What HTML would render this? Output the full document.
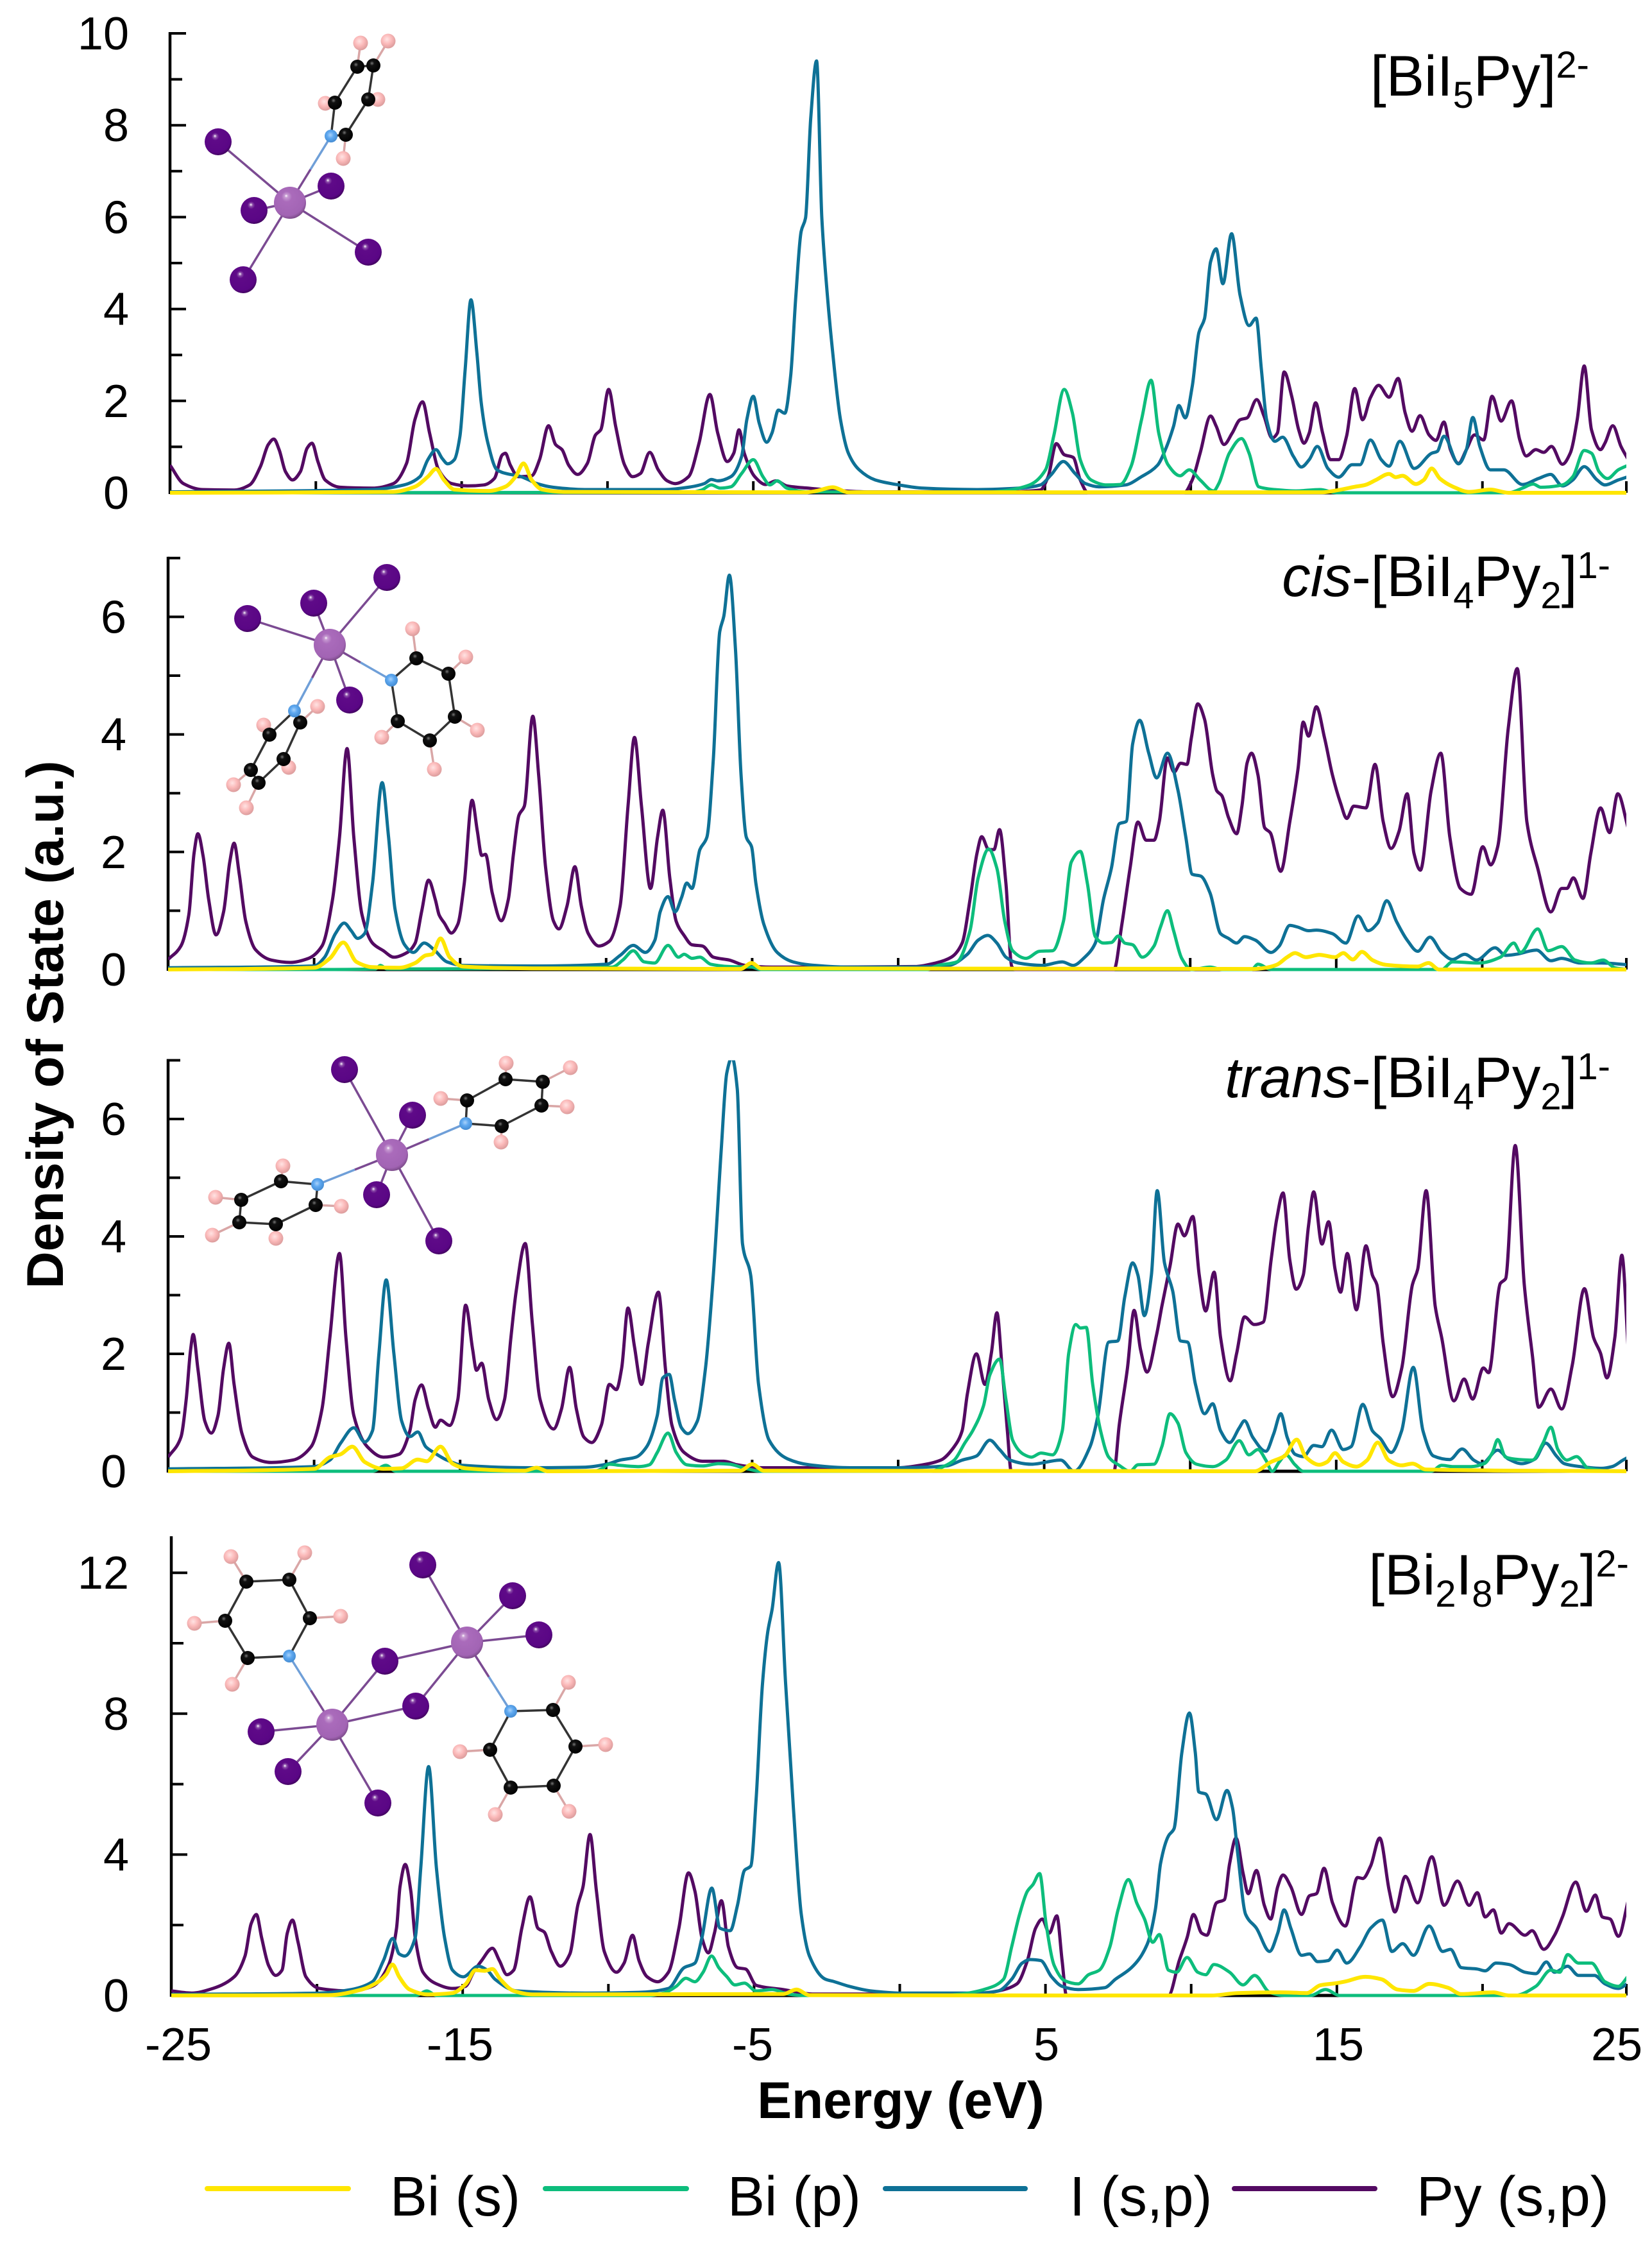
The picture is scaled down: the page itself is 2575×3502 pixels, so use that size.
<!DOCTYPE html>
<html lang="en">
<head>
<meta charset="utf-8">
<title>Density of State by molecular fragment</title>
<style>
html,body{margin:0;padding:0;background:#fff;}
svg{display:block;}
text{font-family:"Liberation Sans",Arial,sans-serif;fill:#000;}
.tick{font-size:72px;}
.tag{font-size:89px;}
.legend{font-size:87px;}
.axis-title{font-size:80.5px;font-weight:bold;}
.s{font-size:58px;}
</style>
</head>
<body>
<svg id="chart" xmlns="http://www.w3.org/2000/svg" width="2575" height="3502" viewBox="0 0 2575 3502">
<defs>
<radialGradient id="iodine" cx="0.45" cy="0.4" r="0.65" fx="0.38" fy="0.28"><stop offset="0" stop-color="#fff"/><stop offset="0.1" stop-color="#8a4ca8"/><stop offset="0.22" stop-color="#5f0a88"/><stop offset="0.8" stop-color="#5a0685"/><stop offset="1" stop-color="#37034f"/></radialGradient>
<radialGradient id="bismuth" cx="0.45" cy="0.4" r="0.65" fx="0.38" fy="0.28"><stop offset="0" stop-color="#fff"/><stop offset="0.08" stop-color="#c79bd2"/><stop offset="0.25" stop-color="#aa6bbb"/><stop offset="0.8" stop-color="#a264b4"/><stop offset="1" stop-color="#6d4279"/></radialGradient>
<radialGradient id="nitrogen" cx="0.45" cy="0.42" r="0.65"><stop offset="0" stop-color="#a9d2fa"/><stop offset="0.4" stop-color="#5ea8f0"/><stop offset="1" stop-color="#3f86cc"/></radialGradient>
<radialGradient id="carbon" cx="0.4" cy="0.35" r="0.65"><stop offset="0" stop-color="#777"/><stop offset="0.25" stop-color="#111"/><stop offset="1" stop-color="#000"/></radialGradient>
<radialGradient id="hydrogen" cx="0.42" cy="0.38" r="0.65"><stop offset="0" stop-color="#ffe3e3"/><stop offset="0.5" stop-color="#fbb9b9"/><stop offset="1" stop-color="#d99a9a"/></radialGradient>
</defs>
<rect width="2575" height="3502" fill="#fff"/>
<g id="molecules"></g>
<g id="panels"></g>

<text class="tag" x="2477" y="149" text-anchor="end">[BiI<tspan class="s" dy="19">5</tspan><tspan dy="-19">Py]</tspan><tspan class="s" dy="-28">2-</tspan></text>
<text class="tag" x="2510" y="929" text-anchor="end"><tspan font-style="italic">cis</tspan>-[BiI<tspan class="s" dy="19">4</tspan><tspan dy="-19">Py</tspan><tspan class="s" dy="19">2</tspan><tspan dy="-19">]</tspan><tspan class="s" dy="-28">1-</tspan></text>
<text class="tag" x="2510" y="1710" text-anchor="end"><tspan font-style="italic">trans</tspan>-[BiI<tspan class="s" dy="19">4</tspan><tspan dy="-19">Py</tspan><tspan class="s" dy="19">2</tspan><tspan dy="-19">]</tspan><tspan class="s" dy="-28">1-</tspan></text>
<text class="tag" x="2539" y="2485" text-anchor="end">[Bi<tspan class="s" dy="19">2</tspan><tspan dy="-19">I</tspan><tspan class="s" dy="19">8</tspan><tspan dy="-19">Py</tspan><tspan class="s" dy="19">2</tspan><tspan dy="-19">]</tspan><tspan class="s" dy="-28">2-</tspan></text>

<text class="axis-title" x="1404" y="3301" text-anchor="middle">Energy (eV)</text>
<text class="axis-title" x="98" y="1597" text-anchor="middle" transform="rotate(-90 98 1597)">Density of State (a.u.)</text>

<g>
<line x1="323" x2="543" y1="3411" y2="3411" stroke="#ffe600" stroke-width="8" stroke-linecap="round"/>
<text class="legend" x="608" y="3453">Bi (s)</text>
<line x1="850" x2="1070" y1="3411" y2="3411" stroke="#0dbd7c" stroke-width="8" stroke-linecap="round"/>
<text class="legend" x="1134" y="3453">Bi (p)</text>
<line x1="1380" x2="1598" y1="3411" y2="3411" stroke="#0e7196" stroke-width="8" stroke-linecap="round"/>
<text class="legend" x="1667" y="3453">I (s,p)</text>
<line x1="1924" x2="2143" y1="3411" y2="3411" stroke="#530a62" stroke-width="8" stroke-linecap="round"/>
<text class="legend" x="2208" y="3453">Py (s,p)</text>
</g>
</svg>

<script>
// Shared axis values
const energyTicks = [-25,-20,-15,-10,-5,0,5,10,15,20,25];
const energyTickLabels = [-25,-15,-5,5,15,25];
const dosTicksA = [0,1,2,3,4,5,6,7,8,9,10];
const dosLabelsA = [0,2,4,6,8,10];
const dosTicksB = [0,1,2,3,4,5,6,7];
const dosLabelsB = [0,2,4,6];
const dosTicksC = [0,2,4,6,8,10,12];
const dosLabelsC = [0,4,8,12];

// [BiI5Py]2- : [energy eV, DOS]
const p1Py = [[-25,.6],[-24.54,.2],[-23.9,.07],[-22.8,.06],[-22.27,.17],[-21.9,.57],[-21.63,1.05],[-21.44,1.17],[-21.26,.94],[-21.04,.46],[-20.8,.28],[-20.53,.46],[-20.3,.97],[-20.13,1.08],[-19.93,.68],[-19.68,.28],[-19.17,.12],[-18.07,.1],[-17.34,.2],[-16.89,.64],[-16.6,1.6],[-16.34,1.98],[-16.1,1.3],[-15.79,.5],[-15.34,.2],[-14.8,.15],[-14.24,.17],[-13.88,.31],[-13.6,.83],[-13.5,.86],[-13.33,.6],[-13.06,.35],[-12.6,.37],[-12.33,.72],[-12.02,1.46],[-11.78,1.05],[-11.56,.94],[-11.33,.6],[-11.02,.4],[-10.69,.64],[-10.41,1.26],[-10.23,1.37],[-9.96,2.25],[-9.72,1.45],[-9.41,.6],[-9.14,.35],[-8.87,.42],[-8.55,.88],[-8.26,.5],[-7.95,.26],[-7.68,.2],[-7.22,.35],[-6.86,1.08],[-6.49,2.14],[-6.22,1.3],[-5.89,.68],[-5.67,.86],[-5.49,1.37],[-5.31,.86],[-4.95,.35],[-4.58,.18],[-4.22,.26],[-3.85,.15],[-3.12,.1],[-2.4,.06],[-1,.02],[3.5,.02],[4.84,.06],[5.11,.35],[5.39,1.07],[5.66,.83],[5.97,.77],[6.21,.28],[6.48,0],[9.77,0],[10.05,.28],[10.32,.86],[10.68,1.67],[10.87,1.45],[11.14,1.05],[11.42,1.3],[11.69,1.59],[11.93,1.63],[12.26,2.03],[12.51,1.67],[12.79,1.19],[12.97,1.3],[13.2,2.63],[13.46,2.1],[13.7,1.37],[13.88,1.08],[14.06,1.3],[14.28,1.96],[14.52,1.3],[14.79,.72],[15.07,.72],[15.34,1.23],[15.62,2.27],[15.89,1.59],[16.16,2.07],[16.44,2.34],[16.8,2.08],[17.11,2.49],[17.35,1.74],[17.59,1.34],[17.86,1.68],[18.17,1.26],[18.41,1.14],[18.68,1.54],[18.9,.94],[19.18,.64],[19.45,.94],[19.73,1.26],[20.04,1.15],[20.33,2.1],[20.64,1.56],[21,2],[21.28,1.15],[21.5,.8],[21.83,.94],[22.1,.88],[22.37,1.01],[22.74,.62],[23.01,.86],[23.25,1.59],[23.49,2.76],[23.74,1.37],[24.05,.94],[24.2,1.08],[24.47,1.46],[24.75,1.01],[25,.72]];
const p1I = [[-25,.02],[-18.07,.07],[-16.98,.17],[-16.43,.35],[-16.16,.72],[-15.88,.94],[-15.67,.75],[-15.48,.63],[-15.25,.72],[-15.06,1.23],[-14.88,2.69],[-14.68,4.2],[-14.48,3.06],[-14.33,1.96],[-14.1,1.08],[-13.79,.5],[-13.42,.41],[-13.06,.37],[-12.8,.31],[-12.42,.2],[-11.87,.12],[-10.78,.07],[-8.04,.07],[-7.13,.13],[-6.68,.2],[-6.44,.29],[-6.22,.26],[-5.77,.35],[-5.4,.79],[-5.22,1.6],[-5,2.1],[-4.8,1.52],[-4.54,1.1],[-4.36,1.3],[-4.14,1.8],[-3.92,1.73],[-3.72,2.54],[-3.54,4.3],[-3.36,5.69],[-3.21,5.98],[-3.03,8.17],[-2.83,9.4],[-2.65,5.98],[-2.47,4.37],[-2.28,3.06],[-2.01,1.59],[-1.74,.86],[-1.37,.5],[-.82,.28],[0,.17],[.82,.1],[2.65,.07],[4.11,.1],[4.84,.17],[5.21,.39],[5.63,.68],[6.03,.42],[6.39,.2],[6.85,.13],[7.76,.17],[8.31,.35],[8.86,.6],[9.13,.94],[9.41,1.45],[9.59,1.9],[9.81,1.63],[10.05,2.32],[10.28,3.49],[10.47,3.79],[10.68,5.03],[10.87,5.31],[11.1,4.55],[11.4,5.64],[11.69,4.3],[12,3.64],[12.24,3.8],[12.42,2.69],[12.6,1.59],[12.88,1.12],[13.15,1.21],[13.52,.79],[13.79,.56],[14.06,.72],[14.34,1.01],[14.7,.53],[15.07,.34],[15.53,.61],[15.8,.61],[16.16,1.15],[16.53,.72],[16.8,.58],[17.17,1.12],[17.66,.53],[18.26,.86],[18.45,.9],[18.68,1.23],[19.18,.63],[19.45,.94],[19.67,1.64],[19.91,1.01],[20.27,.5],[20.73,.5],[21.37,.18],[21.92,.31],[22.34,.4],[22.74,.15],[23.1,.28],[23.49,.57],[23.93,.28],[24.2,.17],[24.66,.28],[25,.35]];
const p1BiP = [[-25,0],[-7.13,.01],[-6.77,.06],[-6.44,.17],[-6.13,.1],[-5.77,.13],[-5.4,.42],[-5,.72],[-4.67,.35],[-4.43,.17],[-4.18,.26],[-3.85,.1],[-3.1,.02],[3,.01],[3.56,.04],[4.47,.17],[5.02,.5],[5.3,1.23],[5.66,2.25],[5.94,1.74],[6.21,.72],[6.58,.28],[7.12,.17],[7.58,.18],[7.95,.57],[8.31,1.59],[8.64,2.45],[8.9,1.3],[9.22,.61],[9.63,.37],[9.95,.5],[10.32,.28],[10.78,.04],[10.96,.2],[11.32,.86],[11.74,1.18],[12,.86],[12.33,.13],[12.88,.07],[13.6,.04],[14.43,.07],[15,0],[20.9,0],[21.37,.1],[21.74,.19],[22,.12],[22.74,.17],[23.1,.35],[23.49,.92],[23.74,.86],[24,.46],[24.29,.31],[24.66,.5],[25,.6]];
const p1BiS = [[-25,0],[-17.34,.02],[-16.61,.13],[-16.16,.35],[-15.88,.52],[-15.61,.28],[-15.25,.07],[-14.06,.04],[-13.51,.13],[-13.15,.35],[-12.88,.64],[-12.6,.28],[-12.24,.07],[-11.5,.02],[-3.2,.01],[-2.83,.04],[-2.28,.12],[-1.74,.01],[14.5,.01],[15.07,.06],[15.62,.13],[15.98,.17],[16.35,.28],[16.8,.41],[17.02,.34],[17.26,.37],[17.72,.19],[17.99,.28],[18.26,.53],[18.54,.31],[19,.13],[19.54,.02],[20.27,.07],[20.9,0],[25,0]];

// cis-[BiI4Py2]1-
const p2Py = [[-25,.17],[-24.56,.4],[-24.29,.93],[-24.11,1.98],[-23.98,2.31],[-23.8,1.93],[-23.61,1.19],[-23.36,.59],[-23.1,.98],[-22.89,1.82],[-22.74,2.15],[-22.56,1.61],[-22.34,.82],[-22.01,.34],[-21.46,.16],[-20.82,.12],[-20.19,.19],[-19.73,.4],[-19.37,1.19],[-19.13,2.25],[-18.87,3.76],[-18.64,2.25],[-18.36,.93],[-18,.45],[-17.63,.32],[-17.27,.21],[-16.81,.29],[-16.54,.45],[-16.32,.98],[-16.08,1.52],[-15.85,1.19],[-15.72,.93],[-15.54,.79],[-15.3,.62],[-15.08,.77],[-14.86,1.46],[-14.59,2.88],[-14.41,2.35],[-14.26,1.94],[-14.13,1.96],[-13.9,1.3],[-13.59,.83],[-13.35,1.19],[-13.17,1.98],[-12.99,2.62],[-12.8,2.78],[-12.51,4.31],[-12.31,3.31],[-12.07,1.72],[-11.8,.82],[-11.62,.69],[-11.34,1.08],[-11.07,1.75],[-10.85,1.08],[-10.61,.61],[-10.25,.4],[-9.89,.48],[-9.52,1.08],[-9.25,2.78],[-9.03,3.95],[-8.79,2.78],[-8.48,1.38],[-8.24,2.25],[-8.06,2.71],[-7.82,1.56],[-7.6,.82],[-7.33,.58],[-7.06,.42],[-6.7,.4],[-6.33,.21],[-5.78,.16],[-5.24,.07],[-4.33,.04],[.55,.05],[1.28,.11],[1.82,.21],[2.19,.45],[2.46,1.19],[2.7,1.98],[2.86,2.26],[3.1,2.04],[3.28,2.04],[3.47,2.38],[3.69,1.46],[3.89,.05],[4,0],[7.39,0],[7.66,.77],[7.94,1.72],[8.21,2.51],[8.49,2.2],[8.76,2.2],[8.94,2.51],[9.22,3.6],[9.45,3.36],[9.67,3.51],[9.89,3.49],[10.04,3.94],[10.26,4.52],[10.49,4.26],[10.77,3.31],[10.91,3.04],[11.08,2.96],[11.31,2.59],[11.59,2.31],[11.77,2.78],[11.95,3.52],[12.1,3.68],[12.32,3.31],[12.55,2.41],[12.74,2.33],[13.1,1.67],[13.41,2.51],[13.69,3.41],[13.87,4.21],[14.05,3.97],[14.32,4.47],[14.6,3.94],[14.87,3.31],[15.15,2.83],[15.36,2.57],[15.6,2.78],[16.02,2.75],[16.33,3.49],[16.61,2.51],[16.88,2.06],[17.15,2.35],[17.43,2.99],[17.66,1.98],[17.88,1.69],[18.25,3.04],[18.58,3.68],[18.89,2.25],[19.25,1.38],[19.62,1.28],[20.02,2.09],[20.29,1.78],[20.53,2.09],[20.89,4.1],[21.2,5.12],[21.53,2.51],[21.9,1.72],[22.35,.98],[22.72,1.38],[22.9,1.38],[23.12,1.56],[23.45,1.21],[23.72,1.98],[24.05,2.75],[24.36,2.33],[24.64,2.99],[25,2.4]];
const p2I = [[-25,.03],[-20,.06],[-19.64,.21],[-19.27,.61],[-18.97,.79],[-18.73,.66],[-18.51,.53],[-18.27,.61],[-18,1.46],[-17.67,3.18],[-17.45,2.25],[-17.23,1.03],[-16.9,.42],[-16.6,.29],[-16.23,.45],[-15.9,.34],[-15.45,.13],[-14.9,.07],[-12.53,.06],[-9.98,.09],[-9.52,.24],[-9.07,.41],[-8.66,.29],[-8.33,.5],[-8.15,.98],[-7.88,1.24],[-7.64,.98],[-7.42,1.22],[-7.24,1.47],[-7.06,1.38],[-6.79,2.04],[-6.55,2.25],[-6.33,3.58],[-6.11,5.75],[-5.97,6.01],[-5.78,6.71],[-5.57,5.43],[-5.38,3.31],[-5.2,2.25],[-5.02,2.09],[-4.87,1.46],[-4.6,.77],[-4.14,.29],[-3.6,.13],[-3.05,.08],[-1.64,.04],[0,.04],[1.73,.07],[2.37,.26],[2.74,.5],[3.07,.58],[3.38,.45],[3.69,.21],[4.11,.11],[4.93,.07],[5.62,.13],[5.99,.07],[6.39,.21],[6.75,.45],[7.03,1.19],[7.3,1.72],[7.57,2.48],[7.81,2.52],[8.03,3.84],[8.27,4.24],[8.58,3.68],[8.85,3.26],[9.22,3.68],[9.58,3.05],[9.85,2.25],[10.07,1.62],[10.36,1.59],[10.68,1.3],[11.04,.61],[11.31,.53],[11.59,.45],[11.86,.56],[12.23,.5],[12.77,.29],[13.05,.4],[13.41,.75],[13.69,.72],[14.05,.66],[14.32,.67],[14.87,.61],[15.33,.45],[15.75,.91],[16.09,.66],[16.42,.79],[16.73,1.17],[17.06,.82],[17.43,.5],[17.79,.31],[18.21,.55],[18.61,.29],[18.98,.17],[19.4,.26],[19.8,.16],[20.44,.37],[20.8,.24],[21.17,.26],[21.86,.33],[22.35,.15],[22.72,.19],[23.36,.11],[24.09,.11],[25,.08]];
const p2BiP = [[-25,0],[-20,0],[-17.9,.01],[-17.73,.07],[-17.5,.01],[-9.8,.04],[-9.43,.16],[-9.07,.32],[-8.7,.13],[-8.34,.11],[-7.88,.41],[-7.52,.21],[-7.33,.26],[-7.06,.19],[-6.79,.21],[-6.42,.09],[-5.78,.05],[-5.02,.04],[-4.7,0],[1,0],[1.37,.07],[2.01,.13],[2.46,.66],[2.74,1.56],[3.1,2.05],[3.38,1.72],[3.65,.82],[3.92,.32],[4.38,.19],[4.84,.31],[5.29,.32],[5.66,.82],[5.93,1.83],[6.24,2.01],[6.48,1.46],[6.75,.56],[7.03,.45],[7.3,.46],[7.54,.57],[7.76,.45],[8.03,.42],[8.36,.21],[8.76,.4],[8.98,.72],[9.22,1],[9.43,.66],[9.71,.19],[10.04,0],[10.68,.04],[11.1,0],[12.1,0],[12.32,.09],[12.77,0],[18.61,0],[18.98,.13],[19.89,.11],[20.62,.21],[21.08,.45],[21.31,.29],[21.9,.69],[22.26,.32],[22.72,.39],[23.18,.16],[23.72,.11],[24.14,.16],[24.54,.03],[25,0]];
const p2BiS = [[-25,0],[-20,.03],[-19.46,.19],[-19,.46],[-18.55,.13],[-18,.04],[-17.09,.03],[-16.54,.11],[-16.18,.24],[-15.96,.26],[-15.67,.53],[-15.36,.21],[-14.9,.05],[-12.53,.02],[-5.4,.01],[-5.02,.11],[-4.69,.02],[12.2,.01],[12.59,.03],[12.96,.08],[13.32,.21],[13.59,.28],[13.96,.21],[14.42,.25],[14.96,.21],[15.24,.28],[15.57,.17],[15.88,.3],[16.24,.16],[16.7,.08],[17.79,.05],[18.16,.11],[18.52,0],[25,0]];

// trans-[BiI4Py2]1-
const p3Py = [[-25,.24],[-24.56,.58],[-24.38,1.22],[-24.23,2.07],[-24.14,2.33],[-23.98,1.75],[-23.74,.85],[-23.52,.65],[-23.29,.95],[-23.1,1.75],[-22.92,2.18],[-22.74,1.48],[-22.47,.64],[-22.1,.24],[-21.46,.15],[-20.73,.19],[-20.1,.42],[-19.73,1.06],[-19.46,2.28],[-19.13,3.71],[-18.91,2.28],[-18.64,.95],[-18.18,.42],[-17.63,.24],[-17.09,.29],[-16.72,.69],[-16.54,1.22],[-16.32,1.47],[-16.08,1.06],[-15.85,.75],[-15.67,.87],[-15.36,.78],[-15.08,1.22],[-14.81,2.83],[-14.57,2.07],[-14.44,1.72],[-14.26,1.84],[-14.02,1.22],[-13.75,.88],[-13.48,1.22],[-13.26,2.28],[-13.08,3.07],[-12.77,3.88],[-12.53,2.54],[-12.26,1.22],[-11.8,.72],[-11.53,1.06],[-11.25,1.77],[-11.02,1.06],[-10.76,.58],[-10.49,.49],[-10.16,.79],[-9.89,1.48],[-9.65,1.39],[-9.47,1.75],[-9.25,2.78],[-9.03,2.12],[-8.79,1.48],[-8.56,2.17],[-8.21,3.05],[-7.97,1.75],[-7.75,.79],[-7.33,.32],[-6.7,.17],[-5.97,.17],[-5.51,.11],[-4.69,.06],[-.91,.06],[0,.06],[.73,.1],[1.46,.19],[1.92,.42],[2.19,.69],[2.37,1.32],[2.68,2],[2.97,1.48],[3.19,2.01],[3.38,2.7],[3.56,1.75],[3.74,.69],[3.87,0],[7.39,0],[7.57,.79],[7.85,1.75],[8.08,2.74],[8.3,2.07],[8.52,1.69],[8.85,2.33],[9.03,2.81],[9.31,3.5],[9.58,4.21],[9.8,4.01],[10.09,4.34],[10.31,3.34],[10.53,2.73],[10.82,3.39],[11.04,2.28],[11.37,1.54],[11.59,2.01],[11.86,2.63],[12.19,2.5],[12.5,2.54],[12.77,3.6],[12.96,4.29],[13.18,4.74],[13.41,3.6],[13.63,3.1],[13.87,3.34],[14.05,4.18],[14.23,4.76],[14.51,3.87],[14.74,4.25],[14.96,3.44],[15.15,3.05],[15.38,3.71],[15.69,2.75],[16.02,3.84],[16.24,3.34],[16.39,3.18],[16.61,2.17],[16.93,1.27],[17.24,1.75],[17.61,3.18],[17.79,3.44],[18.08,4.78],[18.39,2.81],[18.61,2.28],[19.03,1.2],[19.38,1.57],[19.67,1.23],[20.04,1.76],[20.22,1.68],[20.62,3.2],[20.8,3.28],[21.13,5.55],[21.44,3.18],[21.72,1.96],[21.93,1.09],[22.35,1.4],[22.72,1.06],[23.08,1.8],[23.5,3.11],[23.81,2.28],[24.05,2.01],[24.27,1.59],[24.54,2.28],[24.78,3.68],[25,2.07]];
const p3I = [[-25,.04],[-20,.08],[-19.46,.19],[-19.09,.48],[-18.64,.74],[-18.27,.5],[-18,.69],[-17.78,2.01],[-17.53,3.26],[-17.27,2.01],[-17,.85],[-16.72,.59],[-16.45,.67],[-16.18,.42],[-15.9,.32],[-15.45,.19],[-14.9,.1],[-12.53,.06],[-10.7,.07],[-9.98,.12],[-9.52,.19],[-8.98,.24],[-8.61,.42],[-8.25,.95],[-8.06,1.59],[-7.84,1.65],[-7.66,1.22],[-7.42,.74],[-7.2,.64],[-6.88,.85],[-6.6,1.75],[-6.33,3.34],[-6.06,5.46],[-5.87,6.78],[-5.69,7.05],[-5.51,6.51],[-5.33,3.87],[-5.05,3.34],[-4.78,1.48],[-4.42,.53],[-3.78,.21],[-3.05,.11],[-1.64,.06],[0,.06],[1.64,.09],[2.19,.19],[2.68,.26],[3.14,.53],[3.47,.37],[3.83,.19],[4.56,.12],[5.57,.19],[6.02,0],[6.57,.42],[6.84,.95],[7.21,2.2],[7.52,2.22],[7.76,2.97],[8.03,3.55],[8.21,3.34],[8.43,2.65],[8.67,3.34],[8.87,4.78],[9.12,3.55],[9.4,3.07],[9.67,2.22],[9.91,2.2],[10.18,1.48],[10.49,.98],[10.77,1.15],[11.04,.69],[11.35,.49],[11.68,.74],[11.86,.86],[12.14,.58],[12.59,.34],[12.86,.64],[13.1,.98],[13.32,.58],[13.59,.29],[13.87,.25],[14.23,.44],[14.51,.42],[14.84,.7],[15.24,.37],[15.51,.42],[15.91,1.14],[16.24,.69],[16.51,.56],[16.88,.32],[17.24,.69],[17.64,1.77],[17.97,.69],[18.33,.26],[18.89,.2],[19.31,.38],[19.71,.19],[19.98,.13],[20.53,.36],[20.89,.21],[21.35,.13],[21.81,.21],[22.17,.48],[22.54,.26],[22.81,.13],[23.36,.08],[24.09,.05],[24.45,.08],[24.82,.19],[25,.24]];
const p3BiP = [[-25,0],[-18,0],[-17.54,.1],[-17.2,0],[-10.4,0],[-10.16,.04],[-9.89,.12],[-9.52,.1],[-8.88,.08],[-8.52,.11],[-8.25,.32],[-7.88,.65],[-7.6,.32],[-7.24,.11],[-6.7,.09],[-6.15,.13],[-5.78,.12],[-5.24,.05],[-4.7,0],[1.1,0],[1.55,.08],[1.92,.19],[2.28,.48],[2.55,.69],[2.92,1.11],[3.14,1.64],[3.47,1.91],[3.69,1.22],[3.92,.53],[4.29,.29],[4.56,.24],[4.89,.31],[5.29,.28],[5.62,.69],[5.84,2.01],[6.08,2.5],[6.24,2.44],[6.44,2.45],[6.66,1.48],[6.93,.69],[7.21,.24],[7.57,.1],[7.94,0],[8.21,.11],[8.76,.12],[9.03,.42],[9.31,.98],[9.58,.82],[9.85,.32],[10.22,.12],[10.77,.08],[11.22,.19],[11.68,.52],[12.01,.28],[12.32,.37],[12.59,.19],[12.81,0],[13.05,.16],[13.28,.28],[13.59,.11],[13.87,0],[18.25,0],[18.61,.1],[18.98,.08],[19.62,.08],[20.07,.13],[20.35,.32],[20.53,.54],[20.8,.24],[21.26,.2],[21.72,.19],[22.08,.48],[22.35,.75],[22.59,.37],[22.9,.19],[23.23,.25],[23.63,.05],[24.6,0],[25,0]];
const p3BiS = [[-25,0],[-20,.04],[-19.46,.24],[-19.09,.29],[-18.69,.42],[-18.27,.16],[-17.63,.04],[-17,.05],[-16.45,.2],[-16.14,.17],[-15.67,.42],[-15.26,.13],[-14.81,.05],[-12.8,.01],[-12.38,.06],[-12,0],[-5.4,.01],[-5,.12],[-4.6,.01],[12.2,0],[12.77,.16],[13.23,.26],[13.65,.54],[13.96,.24],[14.42,.11],[14.69,.16],[14.96,.31],[15.24,.16],[15.69,.08],[16.06,.19],[16.42,.49],[16.79,.19],[17.24,.1],[17.61,.13],[18.07,.03],[25,0]];

// [Bi2I8Py2]2-
const p4Py = [[-25,.13],[-24.3,.07],[-23.57,.2],[-22.84,.53],[-22.47,1.12],[-22.26,2.04],[-22.08,2.3],[-21.9,1.64],[-21.66,.85],[-21.42,.57],[-21.2,.72],[-21.02,1.77],[-20.84,2.14],[-20.65,1.51],[-20.38,.53],[-19.92,.2],[-18.82,.13],[-18.1,.26],[-17.55,.85],[-17.27,1.91],[-17.15,3.09],[-16.97,3.72],[-16.78,2.96],[-16.63,1.64],[-16.36,.66],[-15.9,.33],[-15.36,.2],[-14.9,.26],[-14.63,.66],[-14.35,.99],[-13.98,1.34],[-13.74,.99],[-13.48,.59],[-13.25,.72],[-12.97,1.91],[-12.69,2.8],[-12.42,1.91],[-12.2,1.8],[-11.96,1.25],[-11.65,.83],[-11.32,1.18],[-11.05,2.56],[-10.87,3.09],[-10.63,4.57],[-10.41,2.96],[-10.14,1.25],[-9.72,.66],[-9.46,.92],[-9.17,1.71],[-8.95,.99],[-8.67,.53],[-8.31,.39],[-7.94,.66],[-7.58,1.91],[-7.25,3.48],[-7.03,2.96],[-6.79,1.64],[-6.57,1.21],[-6.36,1.77],[-6.12,2.69],[-5.88,1.38],[-5.57,.79],[-5.29,.75],[-4.93,.29],[-4.01,.17],[-2.92,.04],[2.65,.04],[3.38,.13],[4.02,.33],[4.38,.99],[4.66,1.91],[4.89,2.17],[5.13,1.77],[5.39,2.26],[5.57,.99],[5.72,0],[9.22,0],[9.59,.99],[9.86,1.64],[10.08,2.3],[10.36,1.77],[10.54,1.71],[10.87,2.63],[11.14,2.72],[11.32,3.75],[11.54,4.47],[11.78,3.48],[11.96,2.89],[12.24,3.55],[12.51,2.56],[12.73,2.17],[12.97,3.09],[13.15,3.42],[13.42,3.09],[13.79,2.3],[14.06,2.83],[14.3,2.89],[14.56,3.61],[14.85,2.63],[15.29,1.97],[15.71,3.35],[15.89,3.32],[16.16,3.68],[16.47,4.47],[16.8,2.96],[16.99,2.37],[17.35,3.38],[17.77,2.63],[18.26,3.94],[18.68,2.56],[19.14,3.25],[19.54,2.56],[19.82,2.92],[20.09,2.23],[20.37,2.43],[20.64,1.77],[20.91,2.04],[21.46,1.71],[21.7,1.84],[22.1,1.31],[22.47,1.71],[22.74,2.23],[23.2,3.22],[23.56,2.39],[23.87,2.85],[24.11,2.23],[24.38,2.17],[24.66,1.68],[25,2.7]];
const p4I = [[-25,.03],[-19.92,.07],[-18.82,.17],[-18.1,.39],[-17.72,.99],[-17.4,1.62],[-17.18,1.18],[-16.99,1.12],[-16.63,1.64],[-16.44,3.61],[-16.17,6.5],[-15.9,3.61],[-15.62,1.64],[-15.35,.72],[-14.98,.53],[-14.47,.83],[-14.16,.72],[-13.89,.46],[-13.15,.13],[-10.78,.07],[-8.95,.09],[-7.94,.2],[-7.4,.79],[-7.03,.92],[-6.79,1.64],[-6.45,3.05],[-6.17,1.91],[-5.82,1.84],[-5.57,2.56],[-5.33,3.55],[-5.11,3.68],[-4.93,5.58],[-4.71,8.87],[-4.53,10.32],[-4.38,10.97],[-4.16,12.29],[-3.92,8.87],[-3.65,5.32],[-3.38,2.3],[-3.1,1.12],[-2.55,.46],[-2.28,.4],[-1.74,.26],[-1,.13],[0,.07],[2.65,.07],[3.38,.13],[3.84,.46],[4.2,.92],[4.47,1.02],[4.84,.99],[5.21,.53],[5.57,.26],[6.12,.17],[7.03,.22],[7.4,.46],[7.95,.79],[8.49,1.45],[8.77,2.43],[8.95,3.75],[9.22,4.53],[9.41,4.73],[9.68,6.9],[9.94,8.02],[10.14,6.9],[10.26,5.78],[10.5,5.72],[10.87,4.99],[11.23,5.82],[11.42,5.32],[11.6,4.01],[11.87,2.3],[12.24,1.91],[12.69,1.25],[12.97,1.77],[13.19,2.43],[13.42,1.91],[13.79,1.14],[14.06,1.18],[14.34,.96],[14.7,.99],[15.01,1.29],[15.34,.92],[15.8,1.38],[16.16,1.91],[16.56,2.14],[16.89,1.25],[17.26,1.47],[17.63,1.14],[18.17,1.97],[18.63,1.25],[18.9,1.31],[19.27,.79],[19.82,.75],[20.09,.7],[20.46,.92],[20.91,.88],[21.46,.66],[21.83,.62],[22.19,.95],[22.47,.66],[22.92,.83],[23.29,.57],[23.84,.57],[24.2,.33],[24.66,.2],[25,.35]];
const p4BiP = [[-25,0],[-16.6,0],[-16.23,.13],[-15.9,0],[-8.6,0],[-8.03,.09],[-7.67,.26],[-7.34,.49],[-7.03,.39],[-6.75,.66],[-6.46,1.12],[-6.21,.79],[-5.93,.53],[-5.66,.3],[-5.33,.35],[-4.93,.13],[-4.38,.17],[-3.83,.04],[-3.3,0],[1.5,0],[2.1,.04],[3.01,.2],[3.56,.46],[3.84,1.38],[4.11,2.3],[4.38,2.96],[4.57,3.15],[4.8,3.46],[5.02,2.04],[5.3,.85],[5.66,.42],[6.12,.33],[6.48,.59],[6.85,.72],[7.21,1.38],[7.49,2.43],[7.85,3.29],[8.13,2.63],[8.4,2.17],[8.68,1.51],[8.91,1.73],[9.22,.72],[9.5,.66],[9.86,1.08],[10.23,.66],[10.5,.59],[10.78,.88],[11.32,.66],[11.78,.3],[12.18,.57],[12.69,.09],[13.2,0],[14.1,0],[14.61,.17],[15.1,0],[21.1,0],[21.83,.26],[22.34,.72],[22.65,.66],[22.92,1.16],[23.29,.92],[23.74,.92],[24.2,.39],[24.66,.26],[25,.55]];
const p4BiS = [[-25,0],[-19.6,.01],[-18.46,.17],[-17.9,.39],[-17.63,.59],[-17.41,.88],[-17.18,.53],[-16.82,.17],[-16.2,.03],[-15.35,.07],[-14.89,.33],[-14.56,.72],[-14.25,.7],[-13.98,.75],[-13.71,.46],[-13.25,.13],[-12.6,.03],[-4,.04],[-3.55,.17],[-3.1,.01],[10.7,0],[11.6,.07],[13.06,.09],[13.97,.07],[14.43,.29],[14.98,.35],[15.25,.39],[15.98,.53],[16.53,.46],[17.08,.17],[17.63,.13],[18.17,.33],[18.81,.22],[19.27,.04],[20.37,.09],[20.9,0],[25,0]];

// Panel layouts (geometry only, values come from the arrays above)
const panels = [
  {id:'bii5py', left:265, right:2538, zero:768, unit:71.6, top:10, ticks:dosTicksA, labels:dosLabelsA, labelEnd:201, step:2, py:p1Py, iod:p1I, bip:p1BiP, bis:p1BiS},
  {id:'cis', left:262, right:2538, zero:1511, unit:91.6, top:7, ticks:dosTicksB, labels:dosLabelsB, labelEnd:197, step:2, py:p2Py, iod:p2I, bip:p2BiP, bis:p2BiS},
  {id:'trans', left:262, right:2538, zero:2293, unit:91.5, top:7, ticks:dosTicksB, labels:dosLabelsB, labelEnd:197, step:2, py:p3Py, iod:p3I, bip:p3BiP, bis:p3BiS},
  {id:'bi2i8py2', left:267, right:2538, zero:3110, unit:54.9, top:13, ticks:dosTicksC, labels:dosLabelsC, labelEnd:201, step:4, py:p4Py, iod:p4I, bip:p4BiP, bis:p4BiS}
];
const plotEdge = 2535;
const seriesStyles = [
  {key:'py', name:'py-sp', color:'#530a62', width:5},
  {key:'iod', name:'i-sp', color:'#0e7196', width:5},
  {key:'bip', name:'bi-p', color:'#0dbd7c', width:5},
  {key:'bis', name:'bi-s', color:'#ffe600', width:6}
];
const xLabelCenters = {'-25':278,'-15':717,'-5':1173,'5':1631,'15':2086,'25':2520};

const NS = 'http://www.w3.org/2000/svg';
const panelsRoot = document.getElementById('panels');
const moleculesRoot = document.getElementById('molecules');

function make(tag, attrs, parent){
  const el = document.createElementNS(NS, tag);
  for (const k in attrs) el.setAttribute(k, attrs[k]);
  parent.appendChild(el);
  return el;
}

// Monotone cubic path through the read points, so peaks stay at their values
function smoothPath(points, xScale, yScale){
  const xs = points.map(function(p){return xScale(p[0]);});
  const ys = points.map(function(p){return yScale(p[1]);});
  const n = xs.length, d = [], m = [];
  for (let i = 0; i < n - 1; i++) d.push((ys[i+1]-ys[i]) / ((xs[i+1]-xs[i]) || 1e-6));
  m.push(d[0]);
  for (let i = 1; i < n - 1; i++) {
    if (d[i-1]*d[i] <= 0) m.push(0);
    else {
      const h0 = xs[i]-xs[i-1], h1 = xs[i+1]-xs[i], w1 = 2*h1+h0, w2 = h1+2*h0;
      m.push((w1+w2)/(w1/d[i-1]+w2/d[i]));
    }
  }
  m.push(d[n-2]);
  let path = 'M' + xs[0].toFixed(1) + ' ' + ys[0].toFixed(1);
  for (let i = 0; i < n - 1; i++) {
    const h = (xs[i+1]-xs[i]) / 3;
    path += 'C' + (xs[i]+h).toFixed(1) + ' ' + (ys[i]+m[i]*h).toFixed(1) + ' ' +
      (xs[i+1]-h).toFixed(1) + ' ' + (ys[i+1]-m[i+1]*h).toFixed(1) + ' ' +
      xs[i+1].toFixed(1) + ' ' + ys[i+1].toFixed(1);
  }
  return path;
}

panels.forEach(function(panel){
  const xScale = function(e){ return panel.left + (e + 25) * (panel.right - panel.left) / 50; };
  const yScale = function(v){ return panel.zero - v * panel.unit; };

  const group = make('g', {}, panelsRoot);
  
  

  const clipId = 'clip-' + panel.id;
  const clip = make('clipPath', {id: clipId}, group);
  make('rect', {x: panel.left, y: yScale(panel.top) , width: plotEdge - panel.left, height: panel.zero - yScale(panel.top) + 4}, clip);

  const yAxis = make('line', {x1: panel.left, x2: panel.left, y1: yScale(panel.top) - 2, y2: panel.zero + 2, stroke: '#000', 'stroke-width': 4.5}, group);
  
  

  panel.ticks.forEach(function(t){
    const major = t % panel.step === 0;
    const yTick = make('line', {x1: panel.left, x2: panel.left + (major ? 25 : 19), y1: yScale(t), y2: yScale(t), stroke: '#000', 'stroke-width': 4}, group);
    
    
  });
  panel.labels.forEach(function(t){
    const yLabel = make('text', {x: panel.labelEnd, y: yScale(t) + 25, 'text-anchor': 'end', class: 'tick'}, group);
    yLabel.textContent = String(t);
    
    
  });

  const xAxis = make('line', {x1: panel.left, x2: plotEdge, y1: panel.zero, y2: panel.zero, stroke: '#000', 'stroke-width': 5}, group);
  
  

  energyTicks.forEach(function(e){
    const tickX = Math.min(xScale(e), plotEdge);
    const xTick = make('line', {x1: tickX, x2: tickX, y1: panel.zero, y2: panel.zero - 18, stroke: '#000', 'stroke-width': 4}, group);
    
    
  });

  seriesStyles.forEach(function(style){
    const line = make('path', {d: smoothPath(panel[style.key], xScale, yScale), fill: 'none', stroke: style.color, 'stroke-width': style.width, 'stroke-linejoin': 'round', 'clip-path': 'url(#' + clipId + ')'}, group);
    
    
  });
});

energyTickLabels.forEach(function(e){
  const xLabel = make('text', {x: xLabelCenters[e], y: 3211, 'text-anchor': 'middle', class: 'tick'}, panelsRoot);
  xLabel.textContent = String(e);
  
  
});

// Molecular structure illustrations
const atomStyles = {I:{r:21,fill:'url(#iodine)'},Bi:{r:25,fill:'url(#bismuth)'},N:{r:10,fill:'url(#nitrogen)'},C:{r:11,fill:'url(#carbon)'},H:{r:11.5,fill:'url(#hydrogen)'}};
const bondColors = {I:'#7b4a92',H:'#d9a6a6',C:'#333',N:'#6f9fd8'};

const molecules = [
  {name:'bii5py', bi:[[452,316]], iodine:[[340,221],[516,290],[396,328],[574,393],[379,436]], links:[[0,0],[0,1],[0,2],[0,3],[0,4]],
   rings:[{biIndex:0,n:[516,212],c:[[522,160],[557,104],[582,102],[574,155],[539,210]],h:[[507,161],[562,67],[605,64],[589,155],[535,247]]}]},
  {name:'cis', bi:[[514,1005]], iodine:[[603,900],[489,940],[386,964],[545,1091]], links:[[0,0],[0,1],[0,2],[0,3]],
   rings:[{biIndex:0,n:[610,1060],c:[[649,1026],[699,1050],[709,1117],[670,1154],[620,1124]],h:[[643,980],[726,1024],[744,1138],[677,1199],[595,1149]]},
          {biIndex:0,n:[459,1108],c:[[468,1126],[442,1183],[403,1220],[391,1200],[420,1145]],h:[[495,1101],[450,1196],[384,1259],[364,1223],[411,1130]]}]},
  {name:'trans', bi:[[611,1800]], iodine:[[537,1667],[643,1738],[587,1862],[684,1934]], links:[[0,0],[0,1],[0,2],[0,3]],
   rings:[{biIndex:0,n:[726,1751],c:[[782,1755],[844,1723],[846,1686],[788,1682],[728,1715]],h:[[781,1780],[884,1725],[889,1664],[789,1657],[687,1712]]},
          {biIndex:0,n:[495,1846],c:[[438,1841],[376,1870],[373,1905],[430,1908],[492,1878]],h:[[441,1817],[336,1866],[331,1925],[430,1930],[532,1880]]}]},
  {name:'bi2i8py2', bi:[[518,2688],[728,2560]], iodine:[[659,2439],[799,2487],[840,2548],[600,2589],[648,2659],[407,2699],[449,2761],[589,2810]],
   links:[[1,0],[1,1],[1,2],[1,3],[1,4],[0,3],[0,4],[0,5],[0,6],[0,7]],
   rings:[{biIndex:0,n:[451,2581],c:[[386,2584],[351,2526],[384,2465],[451,2462],[483,2522]],h:[[362,2625],[303,2530],[360,2426],[475,2420],[531,2519]]},
          {biIndex:1,n:[796,2667],c:[[862,2665],[897,2722],[863,2783],[796,2786],[764,2727]],h:[[886,2622],[944,2719],[887,2823],[772,2828],[717,2730]]}]}
];

function bond(group, a, b, color, width){
  const el = make('line', {x1:a[0], y1:a[1], x2:b[0], y2:b[1], stroke:color, 'stroke-width':width}, group);
  
  
}
function atom(group, p, kind){
  const st = atomStyles[kind];
  const el = make('circle', {cx:p[0], cy:p[1], r:st.r, fill:st.fill}, group);
  
  
}
molecules.forEach(function(mol){
  const g = make('g', {}, moleculesRoot);
  
  
  mol.links.forEach(function(l){ bond(g, mol.bi[l[0]], mol.iodine[l[1]], bondColors.I, 3.5); });
  mol.rings.forEach(function(ring){
    const biPos = mol.bi[ring.biIndex];
    const mid = [(biPos[0]+ring.n[0])/2, (biPos[1]+ring.n[1])/2];
    bond(g, biPos, mid, bondColors.I, 3.5);
    bond(g, mid, ring.n, bondColors.N, 3.5);
    const loop = [ring.n].concat(ring.c, [ring.n]);
    for (let i = 0; i < loop.length - 1; i++) bond(g, loop[i], loop[i+1], bondColors.C, 3.5);
    ring.c.forEach(function(c, i){ bond(g, c, ring.h[i], bondColors.H, 3.5); });
  });
  mol.rings.forEach(function(ring){
    ring.h.forEach(function(p){ atom(g, p, 'H'); });
    ring.c.forEach(function(p){ atom(g, p, 'C'); });
    atom(g, ring.n, 'N');
  });
  mol.iodine.forEach(function(p){ atom(g, p, 'I'); });
  mol.bi.forEach(function(p){ atom(g, p, 'Bi'); });
});
</script>
</body>
</html>
